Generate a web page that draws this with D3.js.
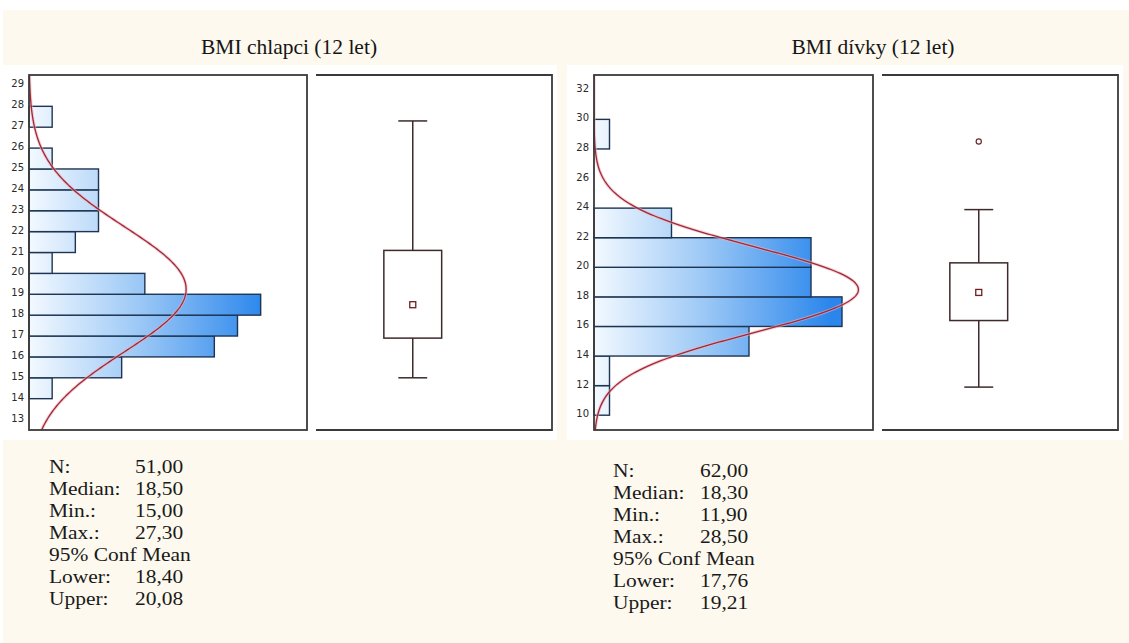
<!DOCTYPE html>
<html>
<head>
<meta charset="utf-8">
<script src="https://cdn.jsdelivr.net/npm/d3@7"></script>
<style>
  html, body { margin: 0; padding: 0; background: #ffffff; }
  svg { display: block; }
</style>
</head>
<body>
<svg id="chart" width="1129" height="643"></svg>
<script>
// ---- Data -----------------------------------------------------------------
// Boys, 12 years: BMI histogram (bin width 1)
const boysBinStarts = [14, 15, 16, 17, 18, 19, 20, 21, 22, 23, 24, 25, 26, 27];
const boysCounts    = [ 1,  4,  8,  9, 10,  5,  1,  2,  3,  3,  3,  1,  0,  1];
const boysTicks     = [13, 14, 15, 16, 17, 18, 19, 20, 21, 22, 23, 24, 25, 26, 27, 28, 29];
// Normal fit parameters (mean, SD)
const boysFit       = [19.24, 3.0];
// Box plot: min, Q1, median, Q3, max, outliers
const boysBox       = [15.0, 16.9, 18.5, 21.1, 27.3];
const boysOutliers  = [];
const boysStatLabels = ["N:", "Median:", "Min.:", "Max.:", "95% Conf Mean", "Lower:", "Upper:"];
const boysStatValues = ["51,00", "18,50", "15,00", "27,30", "", "18,40", "20,08"];

// Girls, 12 years: BMI histogram (bin width 2)
const girlsBinStarts = [10, 12, 14, 16, 18, 20, 22, 24, 26, 28];
const girlsCounts    = [ 1,  1, 10, 16, 14, 14,  5,  0,  0,  1];
const girlsTicks     = [10, 12, 14, 16, 18, 20, 22, 24, 26, 28, 30, 32];
const girlsFit       = [18.49, 2.9];
const girlsBox       = [11.9, 16.4, 18.3, 20.3, 23.9];
const girlsOutliers  = [28.5];
const girlsStatLabels = ["N:", "Median:", "Min.:", "Max.:", "95% Conf Mean", "Lower:", "Upper:"];
const girlsStatValues = ["62,00", "18,30", "11,90", "28,50", "", "17,76", "19,21"];

const titles = ["BMI chlapci (12 let)", "BMI dívky (12 let)"];

// ---- Layout ---------------------------------------------------------------
const svg = d3.select("#chart");
const W = 1129, H = 643;
const plotTop = 75, plotBottom = 430;

const groups = [
  {
    title: titles[0], titleX: 289,
    bins: boysBinStarts, counts: boysCounts, binW: 1, ticks: boysTicks,
    fit: boysFit, box: boysBox, outliers: boysOutliers,
    labels: boysStatLabels, values: boysStatValues,
    yDomain: [12.5, 29.5], xMax: 12,
    histX0: 29, histX1: 307, boxX0: 316, boxX1: 552,
    statX: 49, valX: 135, statY: 473
  },
  {
    title: titles[1], titleX: 873,
    bins: girlsBinStarts, counts: girlsCounts, binW: 2, ticks: girlsTicks,
    fit: girlsFit, box: girlsBox, outliers: girlsOutliers,
    labels: girlsStatLabels, values: girlsStatValues,
    yDomain: [9, 33], xMax: 18,
    histX0: 594, histX1: 873, boxX0: 882, boxX1: 1118,
    statX: 613, valX: 700, statY: 477
  }
];

// page background
svg.append("rect").attr("width", W).attr("height", H).attr("fill", "#ffffff");
svg.append("rect").attr("x", 3).attr("y", 10).attr("width", W - 3).attr("height", H - 10)
  .attr("fill", "#fdf9ee");

const defs = svg.append("defs");

groups.forEach((g, gi) => {
  const n = d3.sum(g.counts);
  const y = d3.scaleLinear().domain(g.yDomain).range([plotBottom, plotTop]);
  const x = d3.scaleLinear().domain([0, g.xMax]).range([g.histX0, g.histX1]);

  // white plotting area behind the two panels
  svg.append("rect")
    .attr("x", g.histX0 - 27).attr("y", 65)
    .attr("width", g.boxX1 + 5 - (g.histX0 - 27)).attr("height", 440 - 65)
    .attr("fill", "#ffffff");

  // title
  svg.append("text")
    .attr("x", g.titleX).attr("y", 54)
    .attr("text-anchor", "middle")
    .attr("font-family", "'Liberation Serif', 'Times New Roman', serif")
    .attr("font-size", 21.5)
    .attr("fill", "#151515")
    .text(g.title);

  // horizontal gradient for bars
  const gradId = "barGrad" + gi;
  const grad = defs.append("linearGradient")
    .attr("id", gradId)
    .attr("gradientUnits", "userSpaceOnUse")
    .attr("x1", g.histX0).attr("x2", g.histX0 + 0.85 * (g.histX1 - g.histX0))
    .attr("y1", 0).attr("y2", 0);
  grad.append("stop").attr("offset", 0).attr("stop-color", "#f3f9ff");
  grad.append("stop").attr("offset", 0.45).attr("stop-color", "#9fcaf6");
  grad.append("stop").attr("offset", 1).attr("stop-color", "#2a86ec");

  const clipId = "clip" + gi;
  defs.append("clipPath").attr("id", clipId)
    .append("rect")
    .attr("x", g.histX0).attr("y", plotTop)
    .attr("width", g.histX1 - g.histX0).attr("height", plotBottom - plotTop);

  // histogram bars
  const bars = g.bins.map((b, i) => ({ start: b, count: g.counts[i] })).filter(d => d.count > 0);
  svg.append("g").selectAll("rect")
    .data(bars)
    .join("rect")
    .attr("x", x(0))
    .attr("y", d => y(d.start + g.binW))
    .attr("width", d => x(d.count) - x(0))
    .attr("height", d => y(d.start) - y(d.start + g.binW))
    .attr("fill", `url(#${gradId})`)
    .attr("stroke", "#1d3553")
    .attr("stroke-width", 1.4);

  // fitted normal curve (expected count per bin)
  const [mu, sd] = g.fit;
  const vals = d3.range(g.yDomain[0], g.yDomain[1] + 0.001, 0.05);
  const curve = vals.map(v => ({
    v, c: n * g.binW * Math.exp(-0.5 * ((v - mu) / sd) ** 2) / (sd * Math.sqrt(2 * Math.PI))
  }));
  const line = d3.line().x(d => x(d.c)).y(d => y(d.v));
  const cg = svg.append("g").attr("clip-path", `url(#${clipId})`);
  cg.append("path").datum(curve).attr("d", line)
    .attr("fill", "none").attr("stroke", "#eeb0b8").attr("stroke-width", 3.2).attr("opacity", 0.6);
  cg.append("path").datum(curve).attr("d", line)
    .attr("fill", "none").attr("stroke", "#a0283a").attr("stroke-width", 1.3);

  // y tick labels
  svg.append("g").selectAll("text")
    .data(g.ticks)
    .join("text")
    .attr("x", g.histX0 - 5)
    .attr("y", d => y(d) - 1.5)
    .attr("dy", "0.35em")
    .attr("text-anchor", "end")
    .attr("font-family", "'DejaVu Sans', Verdana, sans-serif")
    .attr("font-size", 10)
    .attr("fill", "#2a2a2a")
    .text(d => d);

  // histogram frame
  svg.append("rect")
    .attr("x", g.histX0).attr("y", plotTop)
    .attr("width", g.histX1 - g.histX0).attr("height", plotBottom - plotTop)
    .attr("fill", "none").attr("stroke", "#3a3a3a").attr("stroke-width", 1.8);

  // box-plot panel frame (top, right, bottom)
  svg.append("path")
    .attr("d", `M${g.boxX0},${plotTop}H${g.boxX1}V${plotBottom}H${g.boxX0}`)
    .attr("fill", "none").attr("stroke", "#3a3a3a").attr("stroke-width", 1.8);

  // box plot
  const bx = d3.scaleLinear().domain([0, 1]).range([g.boxX0, g.boxX1]);
  const cx = bx(0.41), halfBox = (bx(0.245) - bx(0)) / 2, halfCap = halfBox / 2;
  const [mn, q1, med, q3, mx] = g.box;
  const bp = svg.append("g").attr("stroke", "#3e2a2a").attr("stroke-width", 1.5).attr("fill", "none");
  bp.append("line").attr("x1", cx).attr("x2", cx).attr("y1", y(q3)).attr("y2", y(mx));
  bp.append("line").attr("x1", cx).attr("x2", cx).attr("y1", y(q1)).attr("y2", y(mn));
  bp.append("line").attr("x1", cx - halfCap).attr("x2", cx + halfCap).attr("y1", y(mx)).attr("y2", y(mx));
  bp.append("line").attr("x1", cx - halfCap).attr("x2", cx + halfCap).attr("y1", y(mn)).attr("y2", y(mn));
  bp.append("rect").attr("x", cx - halfBox).attr("y", y(q3))
    .attr("width", 2 * halfBox).attr("height", y(q1) - y(q3));
  bp.append("rect").attr("x", cx - 3).attr("y", y(med) - 3).attr("width", 6).attr("height", 6)
    .attr("stroke", "#6e1f1f").attr("stroke-width", 1.3).attr("fill", "#fff");
  bp.selectAll("circle").data(g.outliers).join("circle")
    .attr("cx", cx).attr("cy", d => y(d)).attr("r", 2.6)
    .attr("stroke", "#6e2a2a").attr("stroke-width", 1.2).attr("fill", "#fff");

  // descriptive statistics (slightly widened serif type)
  const sx = 1.1;
  const st = svg.append("g")
    .attr("transform", `translate(${g.statX},0) scale(${sx},1)`)
    .attr("font-family", "'Liberation Serif', 'Times New Roman', serif")
    .attr("font-size", 19.5)
    .attr("fill", "#1a1a1a");
  g.labels.forEach((lab, i) => {
    st.append("text").attr("x", 0).attr("y", g.statY + i * 22).text(lab);
    if (g.values[i]) {
      st.append("text").attr("x", (g.valX - g.statX) / sx).attr("y", g.statY + i * 22).text(g.values[i]);
    }
  });
});
</script>
</body>
</html>
